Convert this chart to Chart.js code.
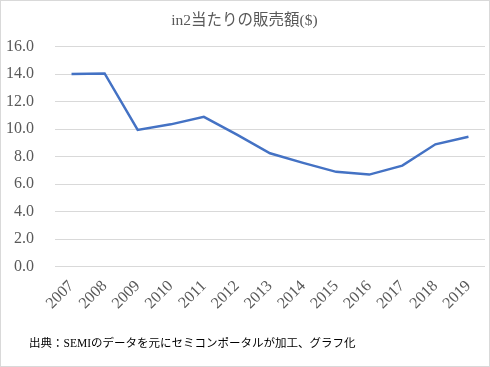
<!DOCTYPE html>
<html>
<head>
<meta charset="utf-8">
<script src="https://cdn.jsdelivr.net/npm/chart.js"></script>
<style>
  html, body { margin: 0; padding: 0; background: #fff; }
  .frame { position: relative; width: 488px; height: 365px; border: 1px solid #d9d9d9; }
  .note { position: absolute; left: 28px; top: 333px; font-family: "Liberation Serif", "Noto Sans CJK JP", serif; font-size: 11.5px; color: #000; }
</style>
</head>
<body>
<div class="frame">
  <canvas id="chart" width="488" height="365"></canvas>
  <div class="note">出典：SEMIのデータを元にセミコンポータルが加工、グラフ化</div>
</div>
<script>
const years = ['2007', '2008', '2009', '2010', '2011', '2012', '2013', '2014', '2015', '2016', '2017', '2018', '2019'];
const pricePerSqInch = [14.0, 14.05, 9.95, 10.35, 10.9, 9.6, 8.25, 7.55, 6.9, 6.7, 7.35, 8.9, 9.45];
const yTicks = [0, 2, 4, 6, 8, 10, 12, 14, 16];

const fontFamily = '"Liberation Serif", "Noto Sans CJK JP", serif';

new Chart(document.getElementById('chart'), {
  type: 'line',
  data: {
    labels: years,
    datasets: [{
      data: pricePerSqInch,
      borderColor: '#4472C4',
      borderWidth: 2.5,
      pointRadius: 0,
      tension: 0
    }]
  },
  options: {
    responsive: false,
    animation: false,
    layout: { padding: { left: 3, right: 4, top: 0, bottom: 51 } },
    plugins: {
      legend: { display: false },
      tooltip: { enabled: false },
      title: {
        display: true,
        text: 'in2当たりの販売額($)',
        color: '#595959',
        font: { family: fontFamily, size: 15.5, weight: 'normal' },
        padding: { top: 11, bottom: 16 }
      }
    },
    scales: {
      x: {
        offset: true,
        grid: { display: false },
        border: { display: false },
        // rotated first label may hang over the y axis, like the original
        afterFit: s => { s.paddingLeft = 0; },
        ticks: {
          color: '#595959',
          font: { family: fontFamily, size: 16 },
          minRotation: 45,
          maxRotation: 45,
          padding: 2
        }
      },
      y: {
        min: 0,
        max: 16,
        afterBuildTicks: axis => { axis.ticks = yTicks.map(v => ({ value: v })); },
        afterFit: s => { s.width = 51; },
        grid: { color: '#d9d9d9', drawTicks: false },
        border: { display: false },
        ticks: {
          color: '#595959',
          font: { family: fontFamily, size: 16 },
          padding: 21,
          callback: v => v.toFixed(1)
        }
      }
    }
  }
});
</script>
</body>
</html>
